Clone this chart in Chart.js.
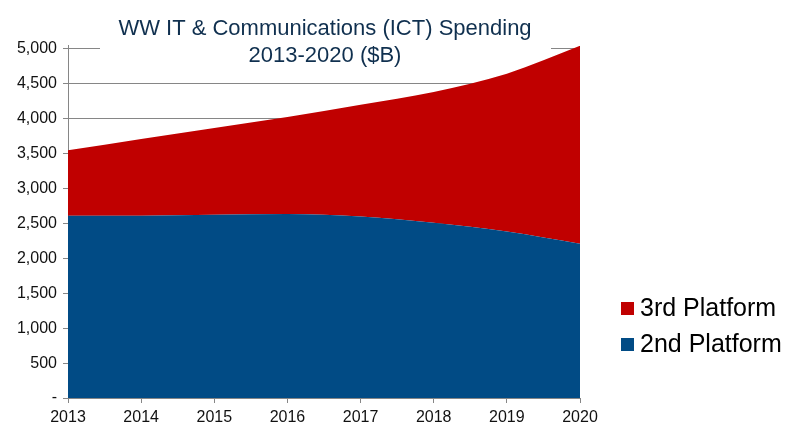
<!DOCTYPE html>
<html>
<head>
<meta charset="utf-8">
<script src="https://cdn.jsdelivr.net/npm/chart.js@4"></script>
<style>
  body { margin: 0; background: #fff; font-family: "Liberation Sans", Arial, sans-serif; }
  #wrap { position: relative; width: 785px; height: 433px; }
  #legend { position: absolute; left: 621px; top: 289px; font-size: 25px; color: #000; }
  #legend div { height: 36px; display: flex; align-items: center; white-space: nowrap; }
  #legend span { display: inline-block; width: 13px; height: 13px; margin-right: 6px; margin-top: 2px; }
</style>
</head>
<body>
<div id="wrap">
  <canvas id="ictChart" width="785" height="433"></canvas>
  <div id="legend"></div>
</div>
<script>
// ICT spending, $B
const years = ['2013','2014','2015','2016','2017','2018','2019','2020'];
const secondPlatform = [2610, 2612, 2625, 2635, 2600, 2510, 2385, 2210];
const thirdPlatform = [940, 1100, 1243, 1391, 1602, 1874, 2260, 2835];
const yTicks = [0, 500, 1000, 1500, 2000, 2500, 3000, 3500, 4000, 4500, 5000];
const titleLines = ['WW IT & Communications (ICT) Spending', '2013-2020 ($B)'];

const RED = '#c00000';
const BLUE = '#014b85';
const GRID = '#868686';
const FONT = '"Liberation Sans", Arial, sans-serif';

// title sits over the top of the plot on a white box, like the original
const titlePlugin = {
  id: 'overTitle',
  beforeDatasetsDraw(chart) {
    const ctx = chart.ctx;
    ctx.save();
    ctx.fillStyle = '#fff';
    ctx.fillRect(100, 0, 451, 70);
    ctx.restore();
  },
  afterDraw(chart) {
    const ctx = chart.ctx;
    ctx.save();
    ctx.fillStyle = '#10304f';
    ctx.font = '22px ' + FONT;
    ctx.textAlign = 'center';
    ctx.textBaseline = 'middle';
    ctx.fillText(titleLines[0], 325, 29);
    ctx.fillText(titleLines[1], 325, 56);
    ctx.restore();
  }
};

new Chart(document.getElementById('ictChart'), {
  type: 'line',
  data: {
    labels: years,
    datasets: [
      {
        label: '2nd Platform',
        data: secondPlatform,
        backgroundColor: BLUE,
        borderColor: BLUE,
        borderWidth: 0,
        pointRadius: 0,
        fill: 'origin',
        cubicInterpolationMode: 'monotone'
      },
      {
        label: '3rd Platform',
        data: thirdPlatform,
        backgroundColor: RED,
        borderColor: RED,
        borderWidth: 0,
        pointRadius: 0,
        fill: '-1',
        cubicInterpolationMode: 'monotone'
      }
    ]
  },
  options: {
    responsive: false,
    animation: false,
    // a bit of headroom above 5,000 so the 2020 peak is not cut off
    layout: { padding: { top: 45.5, right: 205, left: 0, bottom: 0 } },
    plugins: {
      legend: { display: false },
      title: { display: false },
      tooltip: { enabled: false }
    },
    scales: {
      x: {
        offset: false,
        afterFit(scale) { scale.height = 35; },
        grid: { display: true, drawOnChartArea: false, tickLength: 5, color: GRID },
        border: { color: GRID },
        ticks: {
          color: '#111',
          padding: 5,
          maxRotation: 0,
          font: { family: FONT, size: 16 }
        }
      },
      y: {
        stacked: true,
        min: 0,
        max: 5050,
        afterFit(scale) { scale.width = 68; },
        afterBuildTicks(scale) { scale.ticks = yTicks.map(v => ({ value: v })); },
        grid: { color: GRID, tickLength: 5 },
        border: { color: GRID },
        ticks: {
          color: '#111',
          padding: 6,
          font: { family: FONT, size: 16 },
          callback: v => v === 0 ? '-' : v.toLocaleString('en-US')
        }
      }
    }
  },
  plugins: [titlePlugin]
});

// legend, top series first
const legend = document.getElementById('legend');
[['3rd Platform', RED], ['2nd Platform', BLUE]].forEach(([name, col]) => {
  const row = document.createElement('div');
  row.innerHTML = '<span style="background:' + col + '"></span>' + name;
  legend.appendChild(row);
});
</script>
</body>
</html>
